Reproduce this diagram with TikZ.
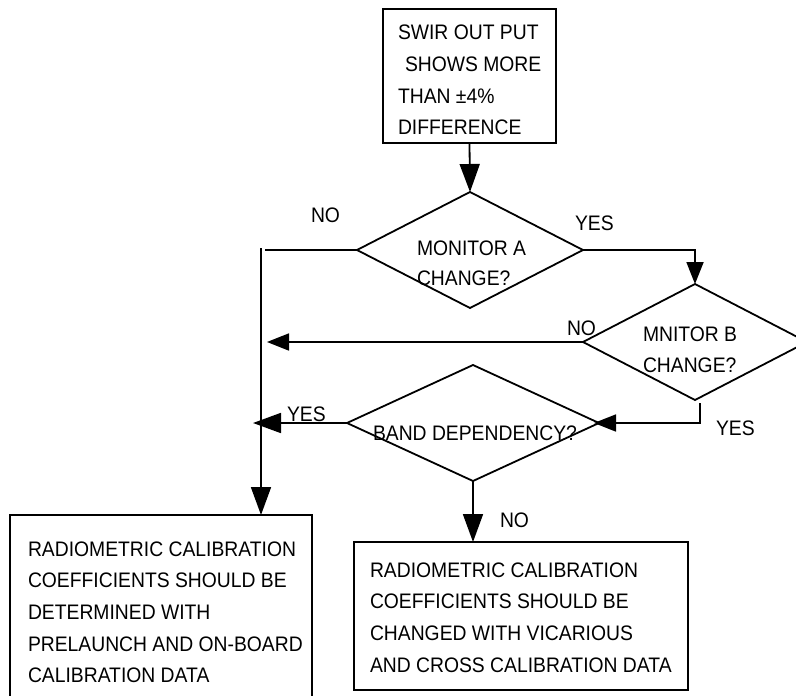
\documentclass[tikz,border=0pt]{standalone}
\usepackage{fontspec}
\setmainfont{Liberation Sans}[FakeStretch=0.92]
\usetikzlibrary{arrows.meta,shapes.geometric}
\begin{document}
\begin{tikzpicture}[x=1pt,y=-1pt,
  every node/.style={inner sep=0pt, outer sep=0pt},
  flowline/.style={line width=1.8pt},
  bigarrow/.style={flowline, -{Triangle[length=28pt,width=20pt]}},
  smallarrow/.style={flowline, -{Triangle[length=22pt,width=17pt]}},
  boxshape/.style={draw, line width=1.8pt, rectangle, anchor=north west},
  diashape/.style={draw, line width=1.8pt, diamond},
  txt/.style={font=\fontsize{21}{31.7}\selectfont, align=left, anchor=north west},
  lbl/.style={font=\fontsize{21}{25}\selectfont, anchor=base west}]
\useasboundingbox (0,0) rectangle (796,696);
% boxes
\node[boxshape, minimum width=173pt, minimum height=134pt] (top) at (383,9) {};
\node[boxshape, minimum width=302pt, minimum height=185pt] (b1) at (10,515) {};
\node[boxshape, minimum width=334pt, minimum height=148pt] (b2) at (354,542) {};
% diamonds
\node[diashape, minimum width=226pt, minimum height=116pt] (d1) at (470,250) {};
\node[diashape, minimum width=224pt, minimum height=116pt] (d2) at (695,342) {};
\node[diashape, minimum width=252pt, minimum height=116pt] (d3) at (473,423) {};
% texts
\node[txt, font=\fontsize{21}{31.8}\selectfont] (toptxt) at (398,24.5)
  {\rule{0pt}{15pt}SWIR OUT PUT\\\hspace*{7pt}SHOWS MORE\\THAN ±4\%\\DIFFERENCE};
\node[txt] (b1txt) at (28,541)
  {\rule{0pt}{15pt}RADIOMETRIC CALIBRATION\\COEFFICIENTS SHOULD BE\\DETERMINED WITH\\PRELAUNCH AND ON-BOARD\\CALIBRATION DATA};
\node[txt] (b2txt) at (370,562)
  {\rule{0pt}{15pt}RADIOMETRIC CALIBRATION\\COEFFICIENTS SHOULD BE\\CHANGED WITH VICARIOUS\\AND CROSS CALIBRATION DATA};
\node[txt, font=\fontsize{21}{30}\selectfont] (d1txt) at (417,240)
  {\rule{0pt}{15pt}MONITOR A\\CHANGE?};
\node[txt] (d2txt) at (643,326)
  {\rule{0pt}{15pt}MNITOR B\\CHANGE?};
\node[lbl] (d3txt) at (373,440) {BAND DEPENDENCY?};
% labels
\node[lbl] (no1) at (311,222) {NO};
\node[lbl] (yes1) at (575,230) {YES};
\node[lbl] (no2) at (567,335) {NO};
\node[lbl] (yes2) at (716,435) {YES};
\node[lbl] (yes3) at (287,421) {YES};
\node[lbl] (no3) at (500,527) {NO};
% helper coordinates
\coordinate (j1) at (265,250);
\coordinate (v1) at (261,248);
\coordinate (t2) at ([xshift=6pt]v1 |- d2.west);
\coordinate (y2s) at ([xshift=5pt,yshift=-3pt]d2.south);
\coordinate (t3) at ([xshift=-5pt]d3.east);
\coordinate (t4) at ([xshift=-8pt]v1 |- d3.west);
% connectors
\draw[bigarrow] (top.south) -- (d1.north);
\draw[flowline] (d1.west) -- (j1);
\draw[bigarrow] (v1) -- (v1 |- b1.north);
\draw[smallarrow] (d1.east) -| (d2.north);
\draw[smallarrow] (d2.west) -- (t2);
\draw[smallarrow] (y2s) |- (t3);
\draw[bigarrow] (d3.west) -- (t4);
\draw[bigarrow] (d3.south) -- (d3.south |- b2.north);
\end{tikzpicture}
\end{document}
